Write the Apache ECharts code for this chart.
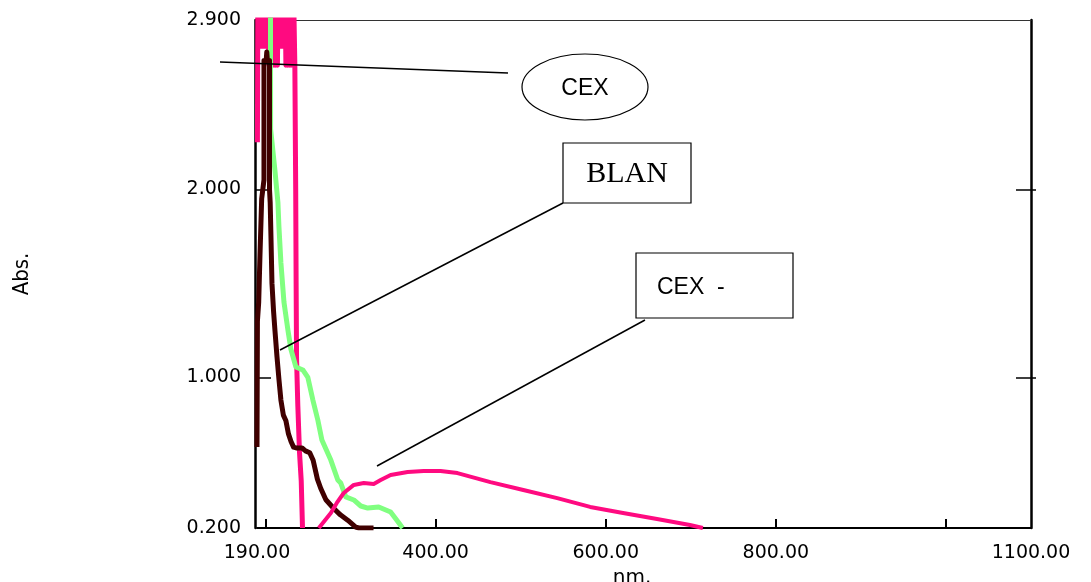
<!DOCTYPE html>
<html>
<head>
<meta charset="utf-8">
<script src="https://cdn.jsdelivr.net/npm/echarts@6/dist/echarts.min.js"></script>
<style>
  html, body { margin: 0; padding: 0; background: #fff; }
  #chart { width: 1091px; height: 582px; }
</style>
</head>
<body>
<div id="chart"></div>
<script>
// Absorbance spectra, wavelength (nm) vs absorbance.
const xLabelValues = [190, 400, 600, 800, 1100];
const xTickValues = [200, 400, 600, 800, 1000];
const yLabelValues = [0.2, 1.0, 2.0, 2.9];
const yTickValues = [1.0, 2.0];

// CEX: saturates above the top of the scale in the deep UV
const cexSpectrum = [
  [190.5, 2.25], [191, 3.05], [192, 2.76], [193, 3.05], [194, 2.76], [195, 3.05],
  [196, 2.76], [197, 3.05], [198, 2.76], [199, 3.05], [200, 2.76], [201, 3.05],
  [202, 2.76], [203, 3.05], [204, 2.66], [205, 3.05], [206, 2.66], [207, 3.05],
  [208, 2.66], [209, 3.05], [210, 2.66], [211, 3.05], [212, 2.66], [213, 3.05],
  [214, 2.66], [215, 3.05], [216, 2.76], [217, 3.05], [218, 2.76], [219, 3.05],
  [220, 2.76], [221, 3.05], [222, 2.76], [223, 3.05], [224, 2.66], [225, 3.05],
  [226, 2.66], [227, 3.05], [228, 2.66], [229, 3.05], [230, 2.66], [231, 3.05],
  [232, 2.66], [233, 3.05], [234.5, 2.66], [235.5, 2.0], [236, 1.5], [236.5, 1.1],
  [238, 0.85], [240, 0.6], [242, 0.45], [243.5, 0.2]
];

// second spectrum (green)
const greenSpectrum = [
  [205.8, 3.1], [206, 2.32], [211.1, 2.10], [214.6, 1.93], [215.8, 1.80],
  [218.1, 1.61], [221.7, 1.40], [226.4, 1.25], [229.9, 1.15], [235.7, 1.056],
  [243.9, 1.04], [249.8, 1.0], [255.7, 0.88], [261.5, 0.774], [266.3, 0.668],
  [276.8, 0.561], [285.0, 0.455], [288.5, 0.439], [294.4, 0.365], [303.8, 0.349],
  [312.0, 0.317], [320.2, 0.306], [333.1, 0.312], [347.1, 0.285], [354.2, 0.243],
  [361.2, 0.2]
];

// BLAN: blank reference spectrum
const blanSpectrum = [
  [190, 0.63], [190.5, 1.30], [192, 1.40], [193.5, 1.65], [195.5, 1.95],
  [198.2, 2.05], [198.2, 2.685], [200.8, 2.685], [201.5, 2.73], [202.2, 2.685],
  [204.7, 2.685], [204.7, 2.0], [205.5, 1.93], [206.4, 1.75], [207.6, 1.50],
  [209.5, 1.35], [211.1, 1.25], [213.5, 1.11], [215.8, 0.99], [218.1, 0.88],
  [221, 0.80], [224, 0.77], [227, 0.70], [230, 0.66], [233, 0.63], [237, 0.625],
  [243, 0.625], [247, 0.61], [252, 0.60], [256, 0.56], [261, 0.46], [265, 0.41],
  [271, 0.35], [280, 0.305], [288, 0.27], [297, 0.24], [306, 0.205], [310, 0.2],
  [327, 0.2]
];

// CEX - : broad band in the near UV / visible
const cexMinusSpectrum = [
  [262.7, 0.20], [276.8, 0.28], [283.8, 0.333], [292.0, 0.386], [303.8, 0.429],
  [315.5, 0.439], [327.2, 0.434], [335.4, 0.455], [347.1, 0.482], [367.1, 0.498],
  [385.9, 0.503], [405.8, 0.503], [425.7, 0.492], [464.4, 0.444], [503.1, 0.402],
  [543.0, 0.359], [581.7, 0.312], [620.4, 0.280], [660.3, 0.248], [699.0, 0.216],
  [714.2, 0.20]
];

const PINK = '#FF0A80';
const GREEN = '#80FF80';
const BROWN = '#400000';
const LABEL_FONT = 'DejaVu Sans';

const chart = echarts.init(document.getElementById('chart'), null, { renderer: 'canvas' });

function lineSeries(data, color, width) {
  return {
    type: 'line',
    data: data,
    showSymbol: false,
    symbol: 'none',
    clip: true,
    lineStyle: { color: color, width: width, join: 'round' },
    itemStyle: { color: color },
    emphasis: { disabled: true }
  };
}

chart.setOption({
  animation: false,
  backgroundColor: '#fff',
  grid: { left: 257, right: 60, top: 20, bottom: 54, containLabel: false, outerBoundsMode: 'none' },
  xAxis: [
    {
      type: 'value', min: 190, max: 1100, position: 'bottom',
      name: 'nm.', nameLocation: 'middle', nameGap: 34,
      nameTextStyle: { fontFamily: LABEL_FONT, fontSize: 20, color: '#000', padding: [0, 24, 0, 0] },
      axisLine: { show: true, lineStyle: { color: '#000', width: 2 } },
      axisTick: { show: true, inside: true, length: 9, customValues: xTickValues, lineStyle: { color: '#000', width: 2 } },
      axisLabel: {
        show: true, customValues: xLabelValues, margin: 16,
        fontFamily: LABEL_FONT, fontSize: 19, color: '#000',
        formatter: v => v.toFixed(2)
      },
      splitLine: { show: false }
    },
    {
      type: 'value', min: 190, max: 1100, position: 'top',
      axisLine: { show: true, lineStyle: { color: '#333', width: 1 } },
      axisTick: { show: false }, axisLabel: { show: false }, splitLine: { show: false }
    }
  ],
  yAxis: [
    {
      type: 'value', min: 0.2, max: 2.9, position: 'left', offset: 2,
      name: 'Abs.', nameLocation: 'middle', nameGap: 222, nameRotate: 90,
      nameTextStyle: { fontFamily: "'Liberation Sans Narrow', 'DejaVu Sans Condensed', sans-serif", fontSize: 22, color: '#000' },
      axisLine: { show: true, lineStyle: { color: '#000', width: 2.5 } },
      axisTick: { show: true, inside: true, length: 16, customValues: yTickValues, lineStyle: { color: '#000', width: 1.5 } },
      axisLabel: {
        show: true, customValues: yLabelValues, margin: 14, padding: [6, 0, 0, 0],
        fontFamily: LABEL_FONT, fontSize: 19, color: '#000',
        formatter: v => v.toFixed(3)
      },
      splitLine: { show: false }
    },
    {
      type: 'value', min: 0.2, max: 2.9, position: 'right',
      axisLine: { show: true, lineStyle: { color: '#000', width: 2.5 } },
      axisTick: { show: true, inside: true, length: 15, customValues: yTickValues, lineStyle: { color: '#000', width: 1.5 } },
      axisLabel: { show: false }, splitLine: { show: false }
    },
    {
      type: 'value', min: 0.2, max: 2.9, position: 'right',
      axisLine: { show: false },
      axisTick: { show: true, inside: false, length: 5, customValues: yTickValues, lineStyle: { color: '#000', width: 1.5 } },
      axisLabel: { show: false }, splitLine: { show: false }
    }
  ],
  series: [
    lineSeries(cexSpectrum, PINK, 5),
    lineSeries(greenSpectrum, GREEN, 5),
    lineSeries(blanSpectrum, BROWN, 5),
    lineSeries(cexMinusSpectrum, PINK, 4)
  ],
  graphic: [
    // CEX callout
    { type: 'line', z: 100, shape: { x1: 220, y1: 62, x2: 508, y2: 73 }, style: { stroke: '#000', lineWidth: 1.5 } },
    { type: 'ellipse', z: 100, shape: { cx: 585, cy: 87, rx: 63, ry: 33 }, style: { fill: '#fff', stroke: '#000', lineWidth: 1.2 } },
    { type: 'text', z: 101, x: 585, y: 89, style: { text: 'CEX', font: '23px "Liberation Sans", Arial, sans-serif', fill: '#000', align: 'center', verticalAlign: 'middle' } },
    // BLAN callout
    { type: 'line', z: 100, shape: { x1: 563, y1: 203, x2: 280, y2: 350 }, style: { stroke: '#000', lineWidth: 1.5 } },
    { type: 'rect', z: 100, shape: { x: 563, y: 143, width: 128, height: 60 }, style: { fill: '#fff', stroke: '#000', lineWidth: 1.2 } },
    { type: 'text', z: 101, x: 627, y: 174, style: { text: 'BLAN', font: '30px "Liberation Serif", "Times New Roman", serif', fill: '#000', align: 'center', verticalAlign: 'middle' } },
    // CEX - callout
    { type: 'line', z: 100, shape: { x1: 645, y1: 320, x2: 377, y2: 466 }, style: { stroke: '#000', lineWidth: 1.5 } },
    { type: 'rect', z: 100, shape: { x: 636, y: 253, width: 157, height: 65 }, style: { fill: '#fff', stroke: '#000', lineWidth: 1.2 } },
    { type: 'text', z: 101, x: 657, y: 288, style: { text: 'CEX  -', font: '23px "Liberation Sans", Arial, sans-serif', fill: '#000', align: 'left', verticalAlign: 'middle' } }
  ]
});
</script>
</body>
</html>
